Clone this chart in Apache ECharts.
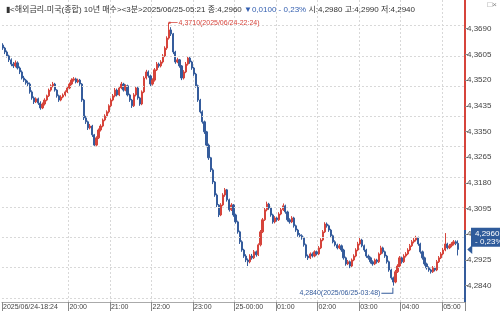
<!DOCTYPE html>
<html><head><meta charset="utf-8">
<script src="https://cdn.jsdelivr.net/npm/echarts@6/dist/echarts.min.js"></script>
<style>html,body{margin:0;padding:0;background:#fff}#c{width:500px;height:314px}</style>
</head><body><div id="c"></div>
<script>
// 3-minute bars, 2025/06/24 18:24 -> 2025/06/25 05:21 (plus 3 empty slots to 05:30)
const startTime = '18:24';
const stepMinutes = 3;
const slotCount = 223;

const opens = [
4.3636,4.3626,4.3613,4.3600,4.3587,4.3573,4.3567,4.3577,4.3560,4.3547,
4.3527,4.3520,4.3511,4.3507,4.3481,4.3461,4.3448,4.3458,4.3444,4.3428,
4.3441,4.3454,4.3468,4.3487,4.3501,4.3507,4.3487,4.3468,4.3454,4.3464,
4.3471,4.3481,4.3494,4.3507,4.3520,4.3524,4.3514,4.3520,4.3507,4.3454,
4.3395,4.3382,4.3362,4.3368,4.3339,4.3305,4.3329,4.3355,4.3368,4.3388,
4.3401,4.3415,4.3435,4.3454,4.3468,4.3487,4.3471,4.3494,4.3507,4.3487,
4.3501,4.3471,4.3454,4.3435,4.3471,4.3494,4.3461,4.3441,4.3481,4.3527,
4.3547,4.3534,4.3507,4.3520,4.3554,4.3573,4.3567,4.3580,4.3600,4.3626,
4.3659,4.3686,4.3673,4.3613,4.3580,4.3587,4.3567,4.3527,4.3547,4.3573,
4.3593,4.3580,4.3560,4.3540,4.3501,4.3454,4.3415,4.3382,4.3349,4.3305,
4.3263,4.3223,4.3183,4.3140,4.3107,4.3074,4.3107,4.3140,4.3157,4.3124,
4.3091,4.3107,4.3074,4.3051,4.3018,4.2985,4.2958,4.2938,4.2925,4.2919,
4.2938,4.2932,4.2952,4.2942,4.2975,4.3018,4.3058,4.3091,4.3110,4.3097,
4.3074,4.3051,4.3064,4.3058,4.3077,4.3091,4.3104,4.3084,4.3058,4.3051,
4.3064,4.3038,4.3024,4.3008,4.3005,4.2998,4.2975,4.2938,4.2932,4.2945,
4.2938,4.2952,4.2945,4.2965,4.2991,4.3018,4.3044,4.3038,4.3024,4.3005,
4.2985,4.2975,4.2965,4.2972,4.2958,4.2932,4.2912,4.2919,4.2905,4.2925,
4.2938,4.2958,4.2978,4.2991,4.2972,4.2958,4.2938,4.2932,4.2919,4.2912,
4.2925,4.2919,4.2945,4.2965,4.2952,4.2938,4.2919,4.2892,4.2866,4.2852,
4.2886,4.2905,4.2932,4.2919,4.2938,4.2945,4.2958,4.2972,4.2985,4.2991,
4.2998,4.2978,4.2952,4.2932,4.2912,4.2899,4.2892,4.2886,4.2899,4.2892,
4.2919,4.2932,4.2945,4.2958,4.2978,4.2965,4.2972,4.2978,4.2985,4.2980
];
const closes = [
4.3626,4.3613,4.3600,4.3587,4.3573,4.3567,4.3577,4.3560,4.3547,4.3527,
4.3520,4.3511,4.3507,4.3481,4.3461,4.3448,4.3458,4.3444,4.3428,4.3441,
4.3454,4.3468,4.3487,4.3501,4.3507,4.3487,4.3468,4.3454,4.3464,4.3471,
4.3481,4.3494,4.3507,4.3520,4.3524,4.3514,4.3520,4.3507,4.3454,4.3395,
4.3382,4.3362,4.3368,4.3339,4.3305,4.3329,4.3355,4.3368,4.3388,4.3401,
4.3415,4.3435,4.3454,4.3468,4.3487,4.3471,4.3494,4.3507,4.3487,4.3501,
4.3471,4.3454,4.3435,4.3471,4.3494,4.3461,4.3441,4.3481,4.3527,4.3547,
4.3534,4.3507,4.3520,4.3554,4.3573,4.3567,4.3580,4.3600,4.3626,4.3659,
4.3686,4.3673,4.3613,4.3580,4.3587,4.3567,4.3527,4.3547,4.3573,4.3593,
4.3580,4.3560,4.3540,4.3501,4.3454,4.3415,4.3382,4.3349,4.3305,4.3263,
4.3223,4.3183,4.3140,4.3107,4.3074,4.3107,4.3140,4.3157,4.3124,4.3091,
4.3107,4.3074,4.3051,4.3018,4.2985,4.2958,4.2938,4.2925,4.2919,4.2938,
4.2932,4.2952,4.2942,4.2975,4.3018,4.3058,4.3091,4.3110,4.3097,4.3074,
4.3051,4.3064,4.3058,4.3077,4.3091,4.3104,4.3084,4.3058,4.3051,4.3064,
4.3038,4.3024,4.3008,4.3005,4.2998,4.2975,4.2938,4.2932,4.2945,4.2938,
4.2952,4.2945,4.2965,4.2991,4.3018,4.3044,4.3038,4.3024,4.3005,4.2985,
4.2975,4.2965,4.2972,4.2958,4.2932,4.2912,4.2919,4.2905,4.2925,4.2938,
4.2958,4.2978,4.2991,4.2972,4.2958,4.2938,4.2932,4.2919,4.2912,4.2925,
4.2919,4.2945,4.2965,4.2952,4.2938,4.2919,4.2892,4.2866,4.2852,4.2886,
4.2905,4.2932,4.2919,4.2938,4.2945,4.2958,4.2972,4.2985,4.2991,4.2998,
4.2978,4.2952,4.2932,4.2912,4.2899,4.2892,4.2886,4.2899,4.2892,4.2919,
4.2932,4.2945,4.2958,4.2978,4.2965,4.2972,4.2978,4.2985,4.2980,4.2960
];
const lows = [
4.3620,4.3606,4.3595,4.3580,4.3566,4.3560,4.3562,4.3555,4.3540,4.3522,
4.3514,4.3505,4.3500,4.3475,4.3455,4.3441,4.3444,4.3438,4.3422,4.3424,
4.3436,4.3450,4.3464,4.3482,4.3496,4.3482,4.3462,4.3448,4.3450,4.3460,
4.3466,4.3477,4.3490,4.3503,4.3515,4.3509,4.3510,4.3501,4.3448,4.3388,
4.3375,4.3355,4.3357,4.3332,4.3299,4.3301,4.3325,4.3350,4.3364,4.3384,
4.3396,4.3410,4.3430,4.3450,4.3463,4.3466,4.3467,4.3490,4.3482,4.3483,
4.3466,4.3448,4.3428,4.3431,4.3466,4.3455,4.3435,4.3437,4.3477,4.3522,
4.3528,4.3500,4.3502,4.3515,4.3550,4.3561,4.3562,4.3575,4.3596,4.3620,
4.3654,4.3666,4.3606,4.3574,4.3576,4.3561,4.3520,4.3522,4.3543,4.3568,
4.3574,4.3554,4.3534,4.3495,4.3448,4.3410,4.3376,4.3342,4.3298,4.3256,
4.3216,4.3176,4.3134,4.3100,4.3067,4.3070,4.3103,4.3134,4.3118,4.3085,
4.3087,4.3068,4.3045,4.3012,4.2978,4.2952,4.2932,4.2918,4.2905,4.2914,
4.2926,4.2928,4.2936,4.2938,4.2970,4.3014,4.3054,4.3086,4.3091,4.3068,
4.3045,4.3046,4.3052,4.3054,4.3073,4.3087,4.3078,4.3052,4.3045,4.3047,
4.3032,4.3018,4.3002,4.2999,4.2992,4.2969,4.2932,4.2925,4.2928,4.2933,
4.2934,4.2940,4.2941,4.2961,4.2987,4.3014,4.3032,4.3018,4.2999,4.2980,
4.2970,4.2960,4.2961,4.2952,4.2926,4.2906,4.2908,4.2898,4.2901,4.2921,
4.2934,4.2954,4.2974,4.2967,4.2952,4.2932,4.2926,4.2913,4.2906,4.2908,
4.2913,4.2915,4.2941,4.2946,4.2932,4.2913,4.2886,4.2860,4.2840,4.2848,
4.2882,4.2901,4.2913,4.2915,4.2933,4.2941,4.2954,4.2968,4.2980,4.2986,
4.2972,4.2946,4.2926,4.2906,4.2893,4.2886,4.2880,4.2882,4.2887,4.2888,
4.2915,4.2928,4.2940,4.2954,4.2960,4.2961,4.2967,4.2973,4.2974,4.2940
];
const highs = [
4.3642,4.3630,4.3618,4.3604,4.3592,4.3580,4.3585,4.3582,4.3565,4.3552,
4.3534,4.3524,4.3518,4.3512,4.3486,4.3466,4.3463,4.3462,4.3450,4.3446,
4.3460,4.3472,4.3492,4.3506,4.3514,4.3511,4.3490,4.3472,4.3470,4.3476,
4.3486,4.3498,4.3512,4.3526,4.3530,4.3528,4.3525,4.3524,4.3510,4.3458,
4.3402,4.3386,4.3375,4.3372,4.3342,4.3334,4.3360,4.3374,4.3393,4.3407,
4.3420,4.3440,4.3460,4.3474,4.3494,4.3492,4.3500,4.3514,4.3511,4.3506,
4.3505,4.3475,4.3458,4.3477,4.3500,4.3498,4.3465,4.3486,4.3533,4.3554,
4.3552,4.3538,4.3526,4.3560,4.3580,4.3578,4.3586,4.3606,4.3632,4.3665,
4.3710,4.3695,4.3676,4.3617,4.3594,4.3590,4.3570,4.3553,4.3580,4.3599,
4.3597,4.3584,4.3564,4.3544,4.3505,4.3458,4.3420,4.3386,4.3352,4.3310,
4.3266,4.3228,4.3186,4.3145,4.3110,4.3113,4.3146,4.3163,4.3160,4.3128,
4.3113,4.3110,4.3078,4.3055,4.3022,4.2990,4.2962,4.2944,4.2930,4.2944,
4.2945,4.2958,4.2956,4.2980,4.3024,4.3064,4.3097,4.3118,4.3114,4.3101,
4.3078,4.3070,4.3068,4.3083,4.3097,4.3112,4.3108,4.3088,4.3063,4.3070,
4.3068,4.3042,4.3028,4.3014,4.3010,4.3002,4.2979,4.2943,4.2950,4.2950,
4.2957,4.2956,4.2971,4.2997,4.3024,4.3050,4.3049,4.3042,4.3028,4.3009,
4.2990,4.2979,4.2978,4.2976,4.2962,4.2936,4.2925,4.2923,4.2930,4.2944,
4.2964,4.2985,4.2998,4.2995,4.2976,4.2962,4.2943,4.2936,4.2924,4.2930,
4.2929,4.2950,4.2972,4.2969,4.2956,4.2942,4.2923,4.2896,4.2870,4.2892,
4.2911,4.2938,4.2936,4.2944,4.2951,4.2964,4.2978,4.2991,4.2998,4.3005,
4.3002,4.2982,4.2956,4.2936,4.2916,4.2904,4.2896,4.2905,4.2903,4.2925,
4.2938,4.2951,4.2965,4.3014,4.2982,4.2978,4.2984,4.2991,4.2990,4.2990
];

const yTicks = [4.2840,4.2925,4.3010,4.3095,4.3180,4.3265,4.3350,4.3435,4.3520,4.3605,4.3690];
const yMin = 4.2786, yMax = 4.3785;
const highMark = {index: 80, value: 4.3710, text: '4,3710(2025/06/24-22:24)'};
const lowMark = {index: 188, value: 4.2840, text: '4,2840(2025/06/25-03:48)'};
const lastIndex = 219, lastPrice = 4.2960, lastPriceText = '4,2960\n- 0,23%';
const axisSplitPrice = 4.3028;
const headerLeft = '▮<해외금리-미국(종합) 10년 매수><3분>2025/06/25-05:21 종:4,2960 ';
const headerChange = '▼0,0100 - 0,23%';
const headerRight = ' 시:4,2980 고:4,2990 저:4,2940';

const RED = '#d6443b', BLUE = '#355c9c', BOX = '#2f5b9b';
const FONT = "'Liberation Sans', 'Noto Sans CJK KR', sans-serif";

// time categories
const categories = [];
{
  let [h, m] = startTime.split(':').map(Number);
  for (let i = 0; i < slotCount; i++) {
    categories.push(String(h).padStart(2,'0') + ':' + String(m).padStart(2,'0'));
    m += stepMinutes; if (m >= 60) { m -= 60; h = (h + 1) % 24; }
  }
}
const candleData = categories.map((c, i) => i < closes.length ? [opens[i], closes[i], lows[i], highs[i]] : '-');
// hour marks; the first hour (19:00) is covered by the start label in the original
const isMark = (i) => i === 0 || (categories[i].endsWith(':00') && i > 20);
const fmt = v => v.toFixed(4).replace('.', ',');

const chart = echarts.init(document.getElementById('c'));
const f = (yMax - axisSplitPrice) / (yMax - yMin);
chart.setOption({
  animation: false,
  title: {
    left: 1, top: 1,
    text: '{a|' + headerLeft + '}{b|' + headerChange + '}{a|' + headerRight + '}',
    textStyle: { fontSize: 8, fontWeight: 'normal', fontFamily: FONT,
      rich: { a: { color: '#333', fontSize: 8, fontFamily: FONT }, b: { color: '#3560b0', fontSize: 8, fontFamily: FONT } } }
  },
  graphic: [{ type: 'text', right: 3, top: 1, style: { text: '□×', fontSize: 8, fill: '#888' } }],
  grid: { left: 0, right: 35, top: 0, bottom: 12 },
  xAxis: {
    type: 'category', data: categories, boundaryGap: true,
    axisLine: { lineStyle: { color: '#aaa', width: 1 } },
    axisTick: { show: true, interval: (i) => isMark(i), length: 9, lineStyle: { color: '#888' } },
    axisLabel: { interval: (i) => isMark(i), hideOverlap: false, showMinLabel: true, align: 'left', margin: 2, fontSize: 7, color: '#444',
      fontFamily: FONT,
      formatter: (v, i) => i === 0 ? '2025/06/24-18:24' : (v === '00:00' ? '25-00:00' : v) },
    splitLine: { show: true, interval: (i) => isMark(i) && i > 0, lineStyle: { color: '#d8d8d8', type: [2, 2] } }
  },
  yAxis: {
    type: 'value', position: 'right', min: yMin, max: yMax, scale: true,
    axisLine: { show: true, lineStyle: { width: 2, color: new echarts.graphic.LinearGradient(0, 0, 0, 1, [
      { offset: 0, color: RED }, { offset: f, color: RED }, { offset: f, color: BLUE }, { offset: 1, color: BLUE }]) } },
    axisTick: { show: true, customValues: yTicks, length: 3, lineStyle: { color: '#888' } },
    axisLabel: { customValues: yTicks, formatter: fmt, fontSize: 8, color: '#444', margin: 2, fontFamily: FONT },
    splitLine: { show: false }
  },
  series: [{
    type: 'candlestick', data: candleData, barWidth: 1.7,
    itemStyle: { color: RED, color0: BLUE, borderColor: RED, borderColor0: BLUE, borderWidth: 1 },
    markLine: {
      silent: true, symbol: ['none', 'none'], animation: false,
      data: yTicks.map(v => ({ yAxis: v, lineStyle: { color: '#d8d8d8', type: [2, 2], width: 1 }, label: { show: false } })).concat([{
        yAxis: lastPrice, lineStyle: { color: 'rgba(0,0,0,0)', width: 0 },
        label: { show: true, position: 'end', formatter: lastPriceText, color: '#fff', backgroundColor: BOX,
          fontSize: 8, lineHeight: 8, padding: [2, 2, 1, 4], distance: 6, fontFamily: FONT }
      }])
    },
    markPoint: {
      silent: true, animation: false,
      data: [
        { coord: [highMark.index, highMark.value], symbol: 'path://M0,0 L2,0 L2,2 L0,2 Z M2,0.6 L9,0.6 L9,1.4 L2,1.4 Z',
          symbolSize: [9, 2], symbolOffset: [4, 0], itemStyle: { color: RED },
          label: { show: true, position: 'right', distance: 1, formatter: highMark.text, color: RED, fontSize: 7, fontFamily: FONT } },
        { coord: [lowMark.index, lowMark.value], symbol: 'path://M11,0 L12,0 L12,6 L0,6 L0,5 L11,5 Z',
          symbolSize: [12, 6], symbolOffset: [-6, 5], itemStyle: { color: BLUE },
          label: { show: true, position: 'left', distance: 1, offset: [0, 2], formatter: lowMark.text, color: BLUE, fontSize: 7, fontFamily: FONT } },
        { coord: [lastIndex, lastPrice], symbol: 'path://M0,5 L5,0 L5,10 Z', symbolSize: [5, 9], symbolOffset: [12, 0],
          itemStyle: { color: BOX }, label: { show: false } }
      ]
    }
  }]
});
</script></body></html>
